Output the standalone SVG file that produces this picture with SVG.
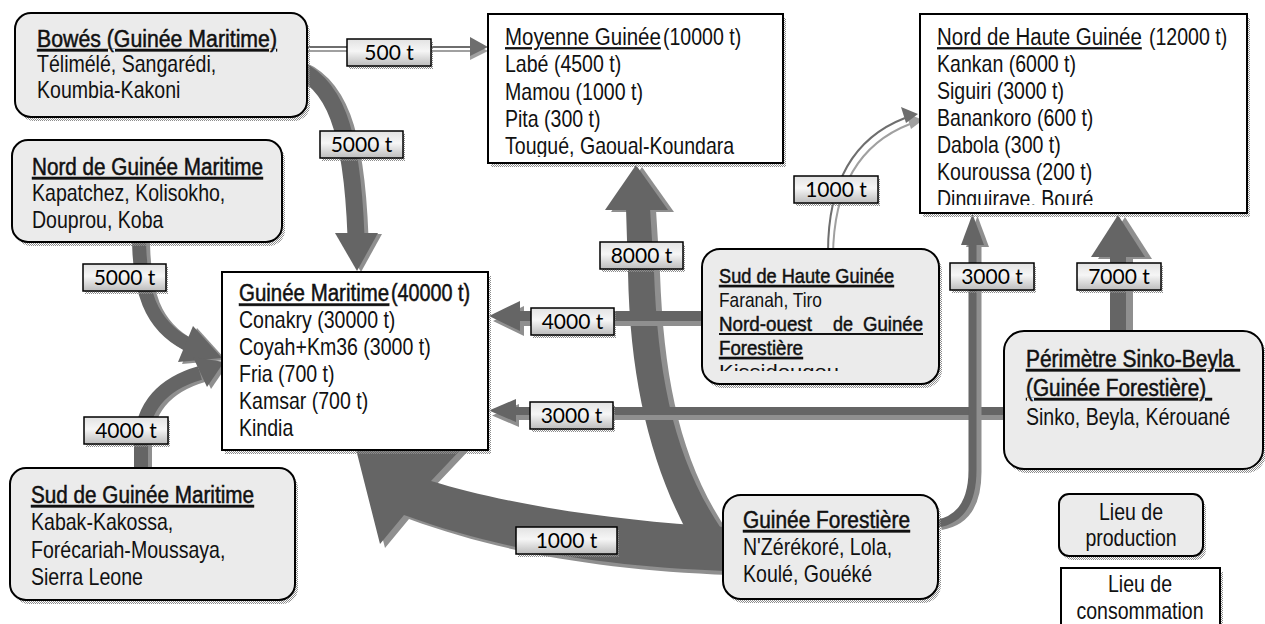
<svg xmlns="http://www.w3.org/2000/svg" width="1265" height="624" viewBox="0 0 1265 624">
<style>
.nf{fill:#ebebeb;stroke:#000;stroke-width:2}
.cf{fill:#fff;stroke:#000;stroke-width:2}
.sh{fill:url(#dots)}
.t{font-family:"Liberation Sans",Arial,sans-serif;font-size:23px;fill:#111}
.s{font-size:21px}
.h{stroke:#111;stroke-width:0.5}
.u{text-decoration:underline}
.lb{fill:url(#lg);stroke:#000;stroke-width:1.5}
.lbt{font-family:Lato,"Liberation Sans",sans-serif;font-size:21px;fill:#000;text-anchor:middle}
.m{text-anchor:middle}
.fc{fill:currentColor}
.sc{fill:none;stroke:currentColor}
</style>
<defs>
<pattern id="dots" width="2" height="2" patternUnits="userSpaceOnUse"><rect width="1" height="1" fill="#8c8c8c"/><rect x="1" y="1" width="1" height="1" fill="#8c8c8c"/></pattern>
<linearGradient id="lg" x1="0" y1="0" x2="0" y2="1"><stop offset="0" stop-color="#e2e2e2"/><stop offset="0.45" stop-color="#f6f6f6"/><stop offset="1" stop-color="#bcbcbc"/></linearGradient>
<clipPath id="cMoy"><rect x="488" y="14" width="295" height="143"/></clipPath>
<clipPath id="cNH"><rect x="920" y="14" width="327" height="191"/></clipPath>
<clipPath id="cSH"><rect x="702" y="249" width="237" height="122"/></clipPath>
<g id="aBowes"><path class="sc" stroke-width="17" d="M 290 66 C 335 80, 352 130, 356 236"/><polygon class="fc" points="335,233 378,233 357,271"/></g>
<g id="aNord"><path class="sc" stroke-width="14" d="M 139 236 C 139 290, 150 325, 187 344"/><polygon class="fc" points="193,326 222,358 178,362"/></g>
<g id="aSud"><path class="sc" stroke-width="14" d="M 141 474 L 141 445 C 141 405, 165 383, 200 373"/><polygon class="fc" points="193,357 224,362 207,387"/></g>
<g id="aBig"><path class="fc" d="M 343 398 L 466 444 L 431 481 C 500 502, 600 520, 725 527 L 725 571 C 600 566, 500 550, 404 515 L 380 544 Z"/></g>
<g id="a8000"><path class="fc" d="M 626 208 L 628 272 C 630 380, 650 460, 686 530 L 722 530 C 675 460, 658 380, 654 272 L 650 208 Z"/><polygon class="fc" points="605,210 668,210 636,165"/></g>
<g id="a4000h"><path class="sc" stroke-width="10" d="M 705 316 L 518 316"/><polygon class="fc" points="520,301 520,331 489,316"/></g>
<g id="a3000h"><path class="sc" stroke-width="8" d="M 1006 411 L 514 411"/><polygon class="fc" points="516,399 516,422 489,410.5"/></g>
<g id="a3000v"><path class="sc" stroke-width="8" d="M 936 524 Q 972.5 518 972.5 470 L 972.5 243"/><polygon class="fc" points="961,245 984,245 972.5,214"/></g>
<g id="a7000"><path class="sc" stroke-width="16" d="M 1118 334 L 1118 255"/><polygon class="fc" points="1091,257 1145,257 1118,215"/></g>
<g id="a500"><path class="sc" stroke-width="2" d="M 305 47 L 472 47"/><polygon class="fc" points="470,37 488,47 470,56"/></g>
<g id="a1000d"><path class="sc" stroke-width="2" d="M 828 252 C 828 190, 848 140, 905 118"/><polygon class="fc" points="901,107 918,114 906,123"/></g>
</defs>
<rect width="1265" height="624" fill="#fff"/>
<g id="connectors">
<use href="#aBowes" transform="translate(4,1)" color="#8f8f8f"/><use href="#aBowes" color="#656565"/>
<use href="#aNord" transform="translate(4,2)" color="#8f8f8f"/><use href="#aNord" color="#656565"/>
<use href="#aSud" transform="translate(4,2)" color="#8f8f8f"/><use href="#aSud" color="#656565"/>
<use href="#aBig" transform="translate(5,4)" color="#8f8f8f"/>
<use href="#a8000" transform="translate(6,2)" color="#8f8f8f"/>
<use href="#aBig" color="#656565"/><use href="#a8000" color="#656565"/>
<use href="#a4000h" transform="translate(4,5)" color="#8f8f8f"/><use href="#a4000h" color="#656565"/>
<use href="#a3000h" transform="translate(3,5)" color="#8f8f8f"/><use href="#a3000h" color="#656565"/>
<use href="#a3000v" transform="translate(5,2)" color="#8f8f8f"/><use href="#a3000v" color="#656565"/>
<use href="#a7000" transform="translate(7,2)" color="#8f8f8f"/><use href="#a7000" color="#656565"/>
<use href="#a500" transform="translate(0,4)" color="#a0a0a0"/><use href="#a500" color="#6e6e6e"/>
<use href="#a1000d" transform="translate(5,6)" color="#a0a0a0"/><use href="#a1000d" color="#6e6e6e"/>
</g>
<g id="n-bowes">
<rect class="sh" x="18" y="17" width="292" height="104" rx="16"/>
<rect class="nf" x="15" y="13" width="292" height="104" rx="16"/>
<text class="t h u" x="37" y="47" textLength="240" lengthAdjust="spacingAndGlyphs">Bowés (Guinée Maritime)</text>
<g transform="translate(37 0) scale(0.85 1)">
<text class="t" x="0" y="72">Télimélé, Sangarédi,</text>
<text class="t" x="0" y="98">Koumbia-Kakoni</text>
</g>
</g>
<g id="n-nordgm">
<rect class="sh" x="15" y="144" width="270" height="102" rx="16"/>
<rect class="nf" x="12" y="140" width="270" height="102" rx="16"/>
<text class="t h u" x="32" y="175" textLength="231" lengthAdjust="spacingAndGlyphs">Nord de Guinée Maritime</text>
<g transform="translate(32 0) scale(0.85 1)">
<text class="t" x="0" y="201">Kapatchez, Kolisokho,</text>
<text class="t" x="0" y="228">Douprou, Koba</text>
</g>
</g>
<g id="n-gm">
<rect class="sh" x="225" y="276" width="266" height="178"/>
<rect class="cf" x="222" y="272" width="266" height="178"/>
<g transform="translate(239 0) scale(0.89 1)"><text class="t h u" x="0" y="301.5">Guinée Maritime</text></g>
<g transform="translate(391 0) scale(0.86 1)"><text class="t h" x="0" y="301.5">(40000 t)</text></g>
<g transform="translate(239 0) scale(0.85 1)">
<text class="t" x="0" y="328">Conakry (30000 t)</text>
<text class="t" x="0" y="355">Coyah+Km36 (3000 t)</text>
<text class="t" x="0" y="382">Fria (700 t)</text>
<text class="t" x="0" y="409">Kamsar (700 t)</text>
<text class="t" x="0" y="436">Kindia</text>
</g>
</g>
<g id="n-sudgm">
<rect class="sh" x="13" y="472" width="285" height="132" rx="16"/>
<rect class="nf" x="10" y="468" width="285" height="132" rx="16"/>
<text class="t h u" x="31" y="503" textLength="223" lengthAdjust="spacingAndGlyphs">Sud de Guinée Maritime</text>
<g transform="translate(31 0) scale(0.85 1)">
<text class="t" x="0" y="530">Kabak-Kakossa,</text>
<text class="t" x="0" y="558">Forécariah-Moussaya,</text>
<text class="t" x="0" y="585">Sierra Leone</text>
</g>
</g>
<g id="n-moyenne">
<rect class="sh" x="491" y="18" width="295" height="149"/>
<rect class="cf" x="488" y="14" width="295" height="149"/>
<g clip-path="url(#cMoy)">
<g transform="translate(505 0) scale(0.89 1)"><text class="t u" x="0" y="45">Moyenne Guinée</text></g>
<g transform="translate(663 0) scale(0.85 1)"><text class="t" x="0" y="45">(10000 t)</text></g>
<g transform="translate(505 0) scale(0.85 1)">
<text class="t" x="0" y="72">Labé (4500 t)</text>
<text class="t" x="0" y="100">Mamou (1000 t)</text>
<text class="t" x="0" y="127">Pita (300 t)</text>
<text class="t" x="0" y="154">Tougué, Gaoual-Koundara</text>
</g>
</g>
</g>
<g id="n-nordhg">
<rect class="sh" x="923" y="18" width="327" height="199"/>
<rect class="cf" x="920" y="14" width="327" height="199"/>
<g clip-path="url(#cNH)">
<g transform="translate(937 0) scale(0.89 1)"><text class="t u" x="0" y="45">Nord de Haute Guinée</text></g>
<g transform="translate(1149 0) scale(0.85 1)"><text class="t" x="0" y="45">(12000 t)</text></g>
<g transform="translate(937 0) scale(0.85 1)">
<text class="t" x="0" y="72">Kankan (6000 t)</text>
<text class="t" x="0" y="99">Siguiri (3000 t)</text>
<text class="t" x="0" y="126">Banankoro (600 t)</text>
<text class="t" x="0" y="153">Dabola (300 t)</text>
<text class="t" x="0" y="180">Kouroussa (200 t)</text>
<text class="t" x="0" y="207">Dinguiraye, Bouré</text>
</g>
</g>
</g>
<g id="n-sudhg">
<rect class="sh" x="705" y="253" width="237" height="135" rx="18"/>
<rect class="nf" x="702" y="249" width="237" height="135" rx="18"/>
<g clip-path="url(#cSH)">
<text class="t s h u" x="719" y="283" textLength="175" lengthAdjust="spacingAndGlyphs">Sud de Haute Guinée</text>
<text class="t s" x="719" y="307" textLength="103" lengthAdjust="spacingAndGlyphs">Faranah, Tiro</text>
<text class="t s h" x="719" y="331" textLength="93" lengthAdjust="spacingAndGlyphs">Nord-ouest</text>
<text class="t s h" x="833" y="331" textLength="20" lengthAdjust="spacingAndGlyphs">de</text>
<text class="t s h" x="863" y="331" textLength="60" lengthAdjust="spacingAndGlyphs">Guinée</text>
<line x1="719" y1="334" x2="923" y2="334" stroke="#111" stroke-width="1.8"/>
<text class="t s h u" x="719" y="355" textLength="84" lengthAdjust="spacingAndGlyphs">Forestière</text>
<text class="t s" x="719" y="379" textLength="120" lengthAdjust="spacingAndGlyphs">Kissidougou</text>
</g>
</g>
<g id="n-sinko">
<rect class="sh" x="1007" y="335" width="259" height="138" rx="20"/>
<rect class="nf" x="1004" y="331" width="259" height="138" rx="20"/>
<text class="t h u" x="1026" y="367" textLength="214" lengthAdjust="spacingAndGlyphs">Périmètre Sinko-Beyla&#160;</text>
<text class="t h u" x="1026" y="396" textLength="186" lengthAdjust="spacingAndGlyphs">(Guinée Forestière)&#160;</text>
<g transform="translate(1026 0) scale(0.85 1)">
<text class="t" x="0" y="425">Sinko, Beyla, Kérouané</text>
</g>
</g>
<g id="n-forest">
<rect class="sh" x="726" y="499" width="215" height="104" rx="18"/>
<rect class="nf" x="723" y="495" width="215" height="104" rx="18"/>
<text class="t h u" x="743" y="528" textLength="167" lengthAdjust="spacingAndGlyphs">Guinée Forestière</text>
<g transform="translate(743 0) scale(0.85 1)">
<text class="t" x="0" y="555">N'Zérékoré, Lola,</text>
<text class="t" x="0" y="582">Koulé, Gouéké</text>
</g>
</g>
<g id="legend-production">
<rect class="sh" x="1062" y="498" width="144" height="62" rx="10"/>
<rect class="nf" x="1059" y="494" width="144" height="62" rx="10"/>
<g transform="translate(1131 0) scale(0.85 1)">
<text class="t m" x="0" y="520">Lieu de</text>
<text class="t m" x="0" y="546">production</text>
</g>
</g>
<g id="legend-consumption">
<rect class="sh" x="1064" y="572" width="159" height="80"/>
<rect class="cf" x="1061" y="568" width="159" height="80"/>
<g transform="translate(1140 0) scale(0.85 1)">
<text class="t m" x="0" y="592">Lieu de</text>
<text class="t m" x="0" y="619">consommation</text>
</g>
</g>
<g id="labels">
<rect class="sh" x="349" y="42" width="84" height="27"/><rect class="lb" x="347" y="39" width="84" height="27"/><text class="lbt" x="389" y="60">500 t</text>
<rect class="sh" x="322" y="134" width="83" height="27"/><rect class="lb" x="320" y="131" width="83" height="27"/><text class="lbt" x="361.5" y="152">5000 t</text>
<rect class="sh" x="85" y="267" width="83" height="27"/><rect class="lb" x="83" y="264" width="83" height="27"/><text class="lbt" x="124.5" y="285">5000 t</text>
<rect class="sh" x="86" y="420" width="84" height="27"/><rect class="lb" x="84" y="417" width="84" height="27"/><text class="lbt" x="126" y="438">4000 t</text>
<rect class="sh" x="602" y="245" width="83" height="27"/><rect class="lb" x="600" y="242" width="83" height="27"/><text class="lbt" x="641.5" y="263">8000 t</text>
<rect class="sh" x="533" y="311" width="83" height="27"/><rect class="lb" x="531" y="308" width="83" height="27"/><text class="lbt" x="572.5" y="329">4000 t</text>
<rect class="sh" x="532" y="405" width="83" height="27"/><rect class="lb" x="530" y="402" width="83" height="27"/><text class="lbt" x="571.5" y="423">3000 t</text>
<rect class="sh" x="518" y="530" width="101" height="27"/><rect class="lb" x="516" y="527" width="101" height="27"/><text class="lbt" x="566.5" y="548">1000 t</text>
<rect class="sh" x="796" y="179" width="84" height="27"/><rect class="lb" x="794" y="176" width="84" height="27"/><text class="lbt" x="836" y="197">1000 t</text>
<rect class="sh" x="952" y="266" width="84" height="27"/><rect class="lb" x="950" y="263" width="84" height="27"/><text class="lbt" x="992" y="284">3000 t</text>
<rect class="sh" x="1079" y="266" width="84" height="27"/><rect class="lb" x="1077" y="263" width="84" height="27"/><text class="lbt" x="1119" y="284">7000 t</text>
</g>
</svg>
